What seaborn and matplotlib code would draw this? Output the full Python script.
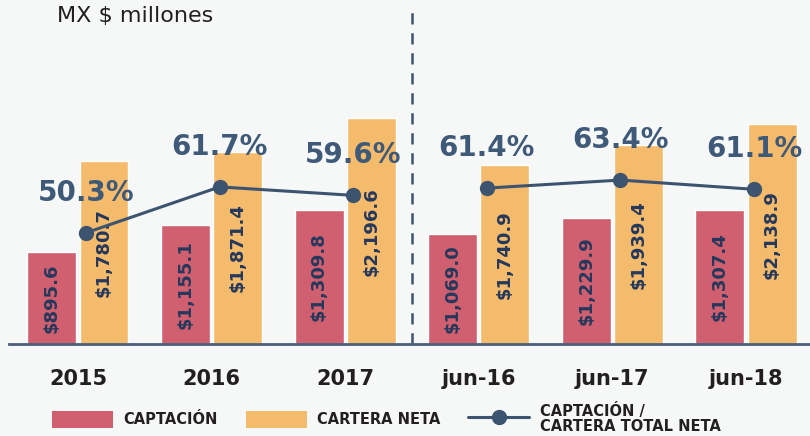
"""
Captación vs cartera neta (MX $ millones) with captación / cartera ratio line.
"""

import matplotlib
matplotlib.use("Agg")
import matplotlib.pyplot as plt
import numpy as np
import pandas as pd
import seaborn as sns
from matplotlib.legend_handler import HandlerLine2D
from matplotlib.lines import Line2D
from matplotlib.patches import Patch

periods = ["2015", "2016", "2017", "jun-16", "jun-17", "jun-18"]
captacion = [895.6, 1155.1, 1309.8, 1069.0, 1229.9, 1307.4]
cartera = [1780.7, 1871.4, 2196.6, 1740.9, 1939.4, 2138.9]
ratio = [50.3, 61.7, 59.6, 61.4, 63.4, 61.1]
annual = ["2015", "2016", "2017"]
semester = ["jun-16", "jun-17", "jun-18"]

BG = "#f6f8f8"
RED = "#d05f70"
GOLD = "#f3bb6b"
SLATE = "#3d5470"
NAVY = "#24385c"
INK = "#231f20"

sns.set_theme(style="white")
plt.rcParams["font.family"] = ["DejaVu Sans"]


class StartMarkerHandler(HandlerLine2D):
    """Put the legend marker at the left end of the line."""

    def get_xdata(self, legend, xdescent, ydescent, width, height, fontsize):
        xdata, _ = super().get_xdata(legend, xdescent, ydescent, width, height, fontsize)
        return xdata, [xdata[0]]


df = pd.DataFrame({
    "periodo": periods * 2,
    "serie": ["CAPTACIÓN"] * len(periods) + ["CARTERA NETA"] * len(periods),
    "monto": captacion + cartera,
})

fig = plt.figure(figsize=(8.1, 4.36), dpi=100, facecolor=BG)
ax = fig.add_axes([9 / 810, 92 / 436, 801 / 810, 344 / 436])
ax.set_facecolor(BG)

sns.barplot(
    data=df, x="periodo", y="monto", hue="serie", order=periods,
    palette={"CAPTACIÓN": RED, "CARTERA NETA": GOLD},
    width=0.78, gap=0.06, saturation=1, legend=False, ax=ax,
)
for cont in ax.containers:
    vals = [b.get_height() for b in cont]
    ax.bar_label(cont, labels=[f"${v:,.1f}" for v in vals], label_type="center",
                 rotation=90, color=NAVY, fontsize=13, fontweight="bold")

ax.set_xlim(-0.516, 5.479)
ax.set_ylim(0, 3350)
ax.set_xlabel("")
ax.set_ylabel("")
ax.set_yticks([])
ax.tick_params(axis="x", length=0, pad=18, labelsize=15, labelcolor=INK)
for lbl in ax.get_xticklabels():
    lbl.set_fontweight("bold")
for side in ["top", "right", "left"]:
    ax.spines[side].set_visible(False)
ax.spines["bottom"].set_color("#4a5f7b")
ax.spines["bottom"].set_linewidth(2)

ax.axvline(2.5, ymin=0, ymax=0.97, color=SLATE, lw=1.8, linestyle=(0, (4.5, 3.5)))

# ratio line on its own scale, broken between annual and semester periods
ax2 = ax.twinx()
ax2.set_ylim(22.7, 108.1)
ax2.axis("off")
for group in (annual, semester):
    idx = [periods.index(p) for p in group]
    xs = np.array(idx) + 0.06
    ys = [ratio[i] for i in idx]
    ax2.plot(xs, ys, color=SLATE, lw=2.2, marker="o", markersize=10, zorder=3)
    for x, y in zip(xs, ys):
        ax2.annotate(f"{y:.1f}%", (x, y), xytext=(0, 29), textcoords="offset points",
                     ha="center", va="center", fontsize=20, fontweight="bold", color="#3f5a78")

fig.text(57 / 810, 1 - 16 / 436, "MX $ millones", fontsize=16, color=INK, va="center")

handles = [
    Patch(facecolor=RED, edgecolor="none"),
    Patch(facecolor=GOLD, edgecolor="none"),
    Line2D([], [], color=SLATE, lw=2.2, marker="o", markersize=10),
]
labels = ["CAPTACIÓN", "CARTERA NETA", "CAPTACIÓN /\nCARTERA TOTAL NETA"]
leg = fig.legend(
    handles, labels, loc="center left", bbox_to_anchor=(52 / 810, 1 - 418 / 436),
    ncol=3, frameon=False, fontsize=10.5, handlelength=4.2, handleheight=1.45,
    handletextpad=0.7, columnspacing=1.9, borderpad=0, borderaxespad=0,
    handler_map={Line2D: StartMarkerHandler(numpoints=1)},
)
for t in leg.get_texts():
    t.set_fontweight("bold")
    t.set_color(INK)
    t.set_linespacing(1.0)

fig.savefig("out.png", dpi=100, facecolor=BG)
plt.close(fig)
